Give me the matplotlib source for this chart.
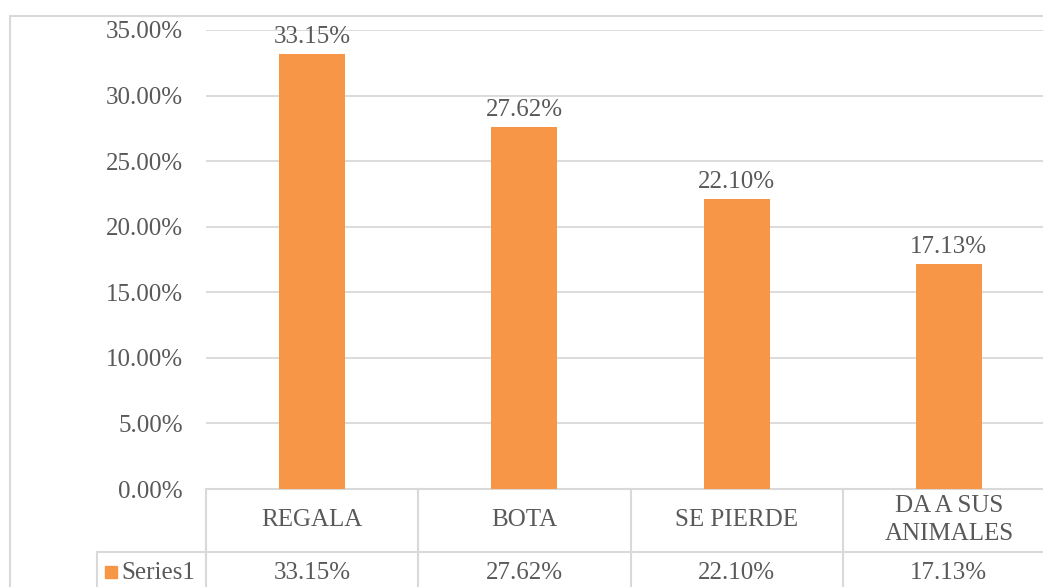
import matplotlib
matplotlib.use('Agg')
from matplotlib import pyplot as pl
from matplotlib.patches import Rectangle
import numpy as np

categories = ['REGALA', 'BOTA', 'SE PIERDE', 'DA A SUS\nANIMALES']
values = [33.15, 27.62, 22.10, 17.13]
series_name = 'Series1'
yticks = [0, 5, 10, 15, 20, 25, 30, 35]

W, H = 1043, 587
bar_color = '#F79646'
grid_color = '#D9D9D9'
text_color = '#595959'
font = 'Liberation Serif'
fs = 18

pl.rcParams['font.family'] = font

fig = pl.figure(figsize=(W/100, H/100), dpi=100)

# plot area in pixels (right edge runs past the picture, as in the original)
left, right, top, bottom = 206, 1055, 30, 489
ax = fig.add_axes([left/W, 1-bottom/H, (right-left)/W, (bottom-top)/H])

x = np.arange(len(categories))
ax.bar(x, values, width=0.31, color=bar_color, zorder=3)
ax.set_xlim(-0.5, len(categories)-0.5)
ax.set_ylim(0, 35)
ax.set_yticks(yticks)
ax.set_yticklabels(['{:.2f}%'.format(v) for v in yticks])
ax.set_xticks([])
ax.tick_params(axis='y', length=0, pad=16.5, labelsize=fs, labelcolor=text_color)
ax.grid(axis='y', color=grid_color, linewidth=1.3, zorder=0)
for s in ['top', 'right', 'left']:
    ax.spines[s].set_visible(False)
ax.spines['bottom'].set_color(grid_color)
ax.spines['bottom'].set_linewidth(1.5)

for xi, v in zip(x, values):
    ax.annotate('{:.2f}%'.format(v), (xi, v), xytext=(0, 4.5),
                textcoords='offset points', ha='center', va='bottom',
                fontsize=fs, color=text_color)

# data table under the axis
trans = ax.get_xaxis_transform()
px = 1/(bottom-top)
row_h = 63*px
lw = 1.5
ax.plot([-0.5, 3.5], [-row_h, -row_h], transform=trans, color=grid_color,
        lw=lw, clip_on=False)
for xi in list(x-0.5) + [3.5]:
    ax.plot([xi, xi], [0, -3*row_h], transform=trans, color=grid_color,
            lw=lw, clip_on=False)
for xi, cat, v in zip(x, categories, values):
    ax.text(xi, -31*px, cat, transform=trans, ha='center', va='center',
            fontsize=fs, color=text_color, linespacing=1.35)
    ax.text(xi, -row_h-21*px, '{:.2f}%'.format(v), transform=trans,
            ha='center', va='center', fontsize=fs, color=text_color)

# legend cell of the table (left of the plot area)
fig.add_artist(pl.Line2D([97/W, left/W], [1-552/H, 1-552/H], color=grid_color,
                         lw=lw))
fig.add_artist(pl.Line2D([97/W, 97/W], [1-552/H, 0], color=grid_color, lw=lw))
fig.add_artist(Rectangle((105/W, 1-578/H), 12/W, 12/H, color=bar_color,
                         transform=fig.transFigure))
fig.text(121/W, 1-573/H, series_name, ha='left', va='center', fontsize=fs,
         color=text_color)

# chart border
fig.add_artist(Rectangle((10/W, -0.1), 1.2, 1-16/H+0.1, fill=False,
                         edgecolor=grid_color, lw=lw,
                         transform=fig.transFigure))

fig.savefig('out.png', dpi=100)
